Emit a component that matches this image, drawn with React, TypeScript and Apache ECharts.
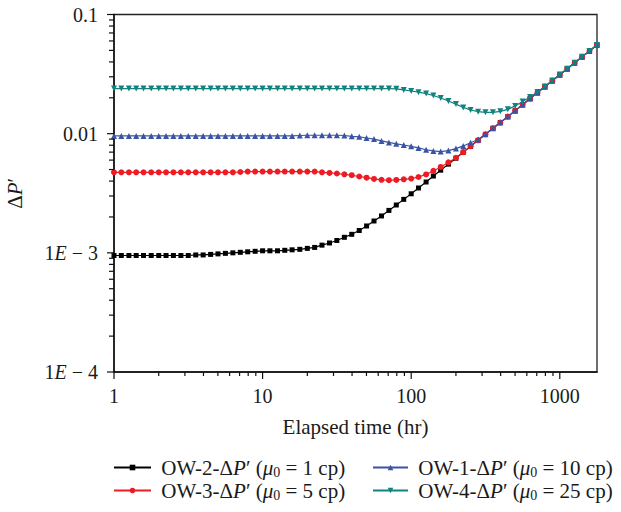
import React, { useEffect, useRef } from "react";
import * as echarts from "echarts";

// Elapsed time (hr), log-spaced sample points
const times = [
  1, 1.12, 1.26, 1.41, 1.58, 1.78, 2.0, 2.24, 2.51, 2.82, 3.16, 3.55, 3.98, 4.47, 5.01, 5.62, 6.31, 7.08, 7.94, 8.91,
  10, 11.2, 12.6, 14.1, 15.8, 17.8, 20.0, 22.4, 25.1, 28.2, 31.6, 35.5, 39.8, 44.7, 50.1, 56.2, 63.1, 70.8, 79.4, 89.1,
  100, 112, 126, 141, 158, 178, 200, 224, 251, 282, 316, 355, 398, 447, 501, 562, 631, 708, 794, 891,
  1000, 1122, 1259, 1413, 1585, 1778,
];

// OW-2 ΔP' (μ0 = 1 cp)
const ow2 = [
  0.00095, 0.00095, 0.00095, 0.00095, 0.00095, 0.00095, 0.00095, 0.00095, 0.00095, 0.00095, 0.00095,
  0.00096, 0.00096, 0.00097, 0.00098, 0.00099, 0.001, 0.00101, 0.00102, 0.00103, 0.00104,
  0.00104, 0.00104, 0.00105, 0.00106, 0.00107, 0.00109, 0.00111, 0.00116, 0.00121, 0.00127,
  0.00135, 0.00143, 0.00154, 0.00168, 0.00185, 0.00204, 0.00227, 0.00252, 0.00281, 0.00313,
  0.0035, 0.00393, 0.00441, 0.00494, 0.00555, 0.00622, 0.00698, 0.00783, 0.00879, 0.00986,
  0.0111, 0.0124, 0.0139, 0.0156, 0.0175, 0.0197, 0.0221, 0.0248, 0.0278, 0.0312,
  0.035, 0.0393, 0.0441, 0.0494, 0.0555,
];

// OW-3 ΔP' (μ0 = 5 cp)
const ow3 = [
  0.00474, 0.00474, 0.00474, 0.00474, 0.00474, 0.00474, 0.00474, 0.00474, 0.00474, 0.00474,
  0.00474, 0.00474, 0.00474, 0.00474, 0.00474, 0.00474, 0.00474, 0.00477,
  0.00481, 0.00481, 0.00481, 0.00481, 0.00481, 0.00481, 0.00481, 0.00481, 0.00481, 0.00481,
  0.00474, 0.00468, 0.00463, 0.00456, 0.00448, 0.00437, 0.00427, 0.00417, 0.0041, 0.00407,
  0.00409, 0.00414, 0.0042, 0.00433, 0.00455, 0.00487, 0.00526, 0.00574, 0.00628, 0.007,
  0.00785, 0.0088, 0.00988,
  0.0111, 0.0124, 0.0139, 0.0156, 0.0175, 0.0197, 0.0221, 0.0248, 0.0278, 0.0312,
  0.035, 0.0393, 0.0441, 0.0494, 0.0555,
];

// OW-1 ΔP' (μ0 = 10 cp)
const ow1 = [
  0.00957, 0.00957, 0.00957, 0.00957, 0.00957, 0.00957, 0.00957, 0.00957, 0.00957, 0.00957,
  0.00957, 0.00957, 0.00957, 0.00957, 0.00957, 0.00957, 0.00957, 0.00957, 0.00957, 0.00957,
  0.00957, 0.00957, 0.00957, 0.00957, 0.00957,
  0.00965, 0.0097, 0.0097, 0.0097, 0.0097, 0.0097, 0.00965,
  0.0095, 0.0094, 0.0092, 0.009, 0.00869, 0.00844, 0.00822, 0.00803, 0.00783, 0.00759,
  0.00733, 0.00716, 0.00708, 0.00721, 0.00749, 0.00789, 0.0084, 0.00893, 0.0099,
  0.0111, 0.0124, 0.0139, 0.0156, 0.0175, 0.0197, 0.0221, 0.0248, 0.0278, 0.0312,
  0.035, 0.0393, 0.0441, 0.0494, 0.0555,
];

// OW-4 ΔP' (μ0 = 25 cp)
const ow4 = [
  0.0239, 0.0239, 0.0239, 0.0239, 0.0239, 0.0239, 0.0239, 0.0239, 0.0239, 0.0239,
  0.0239, 0.0239, 0.0239, 0.0239, 0.0239, 0.0239, 0.0239, 0.0239, 0.0239, 0.0239,
  0.0239, 0.0239, 0.0239, 0.0239, 0.0239, 0.0239, 0.0239, 0.0239, 0.0239, 0.0239,
  0.0239, 0.0239, 0.0239, 0.0239, 0.0239, 0.0239, 0.0239, 0.0239,
  0.0238, 0.0233, 0.0228, 0.0223, 0.0217, 0.0209, 0.0199, 0.0188, 0.0177, 0.0166,
  0.0158, 0.0153, 0.0151, 0.0151, 0.0154, 0.016, 0.0171, 0.0186, 0.0203, 0.0224,
  0.0249, 0.0279, 0.0313, 0.035, 0.0393, 0.0441, 0.0494, 0.0555,
];

const seriesNames = ["OW-2", "OW-3", "OW-1", "OW-4"];
const seriesMu = ["1", "5", "10", "25"];

const xMin = 1;
const xMax = 1780;
const yMin = 0.0001;
const yMax = 0.1;

const xMajorTicks = [1, 10, 100, 1000];
const xTickLabels = ["1", "10", "100", "1000"];
const xMinorTicks = [2, 3, 4, 5, 6, 7, 8, 9, 20, 30, 40, 50, 60, 70, 80, 90, 200, 300, 400, 500, 600, 700, 800, 900];

const yMajorTicks = [0.0001, 0.001, 0.01, 0.1];
const yTickLabels = ["1{i|E} − 4", "1{i|E} − 3", "0.01", "0.1"];
const yMinorTicks = [
  0.0002, 0.0003, 0.0004, 0.0005, 0.0006, 0.0007, 0.0008, 0.0009,
  0.002, 0.003, 0.004, 0.005, 0.006, 0.007, 0.008, 0.009,
  0.02, 0.03, 0.04, 0.05, 0.06, 0.07, 0.08, 0.09,
];

const FONT = "'Liberation Serif', 'Times New Roman', serif";
const TXT = "#1a1a1a";

function matchTick(v: number, ticks: number[], labels: string[]) {
  for (let k = 0; k < ticks.length; k++) {
    if (Math.abs(Math.log10(v) - Math.log10(ticks[k])) < 1e-6) return labels[k];
  }
  return "";
}

export default function App() {
  const ref = useRef<HTMLDivElement>(null);

  useEffect(() => {
    if (!ref.current) return;
    const chart = echarts.init(ref.current, undefined, { renderer: "svg" });

    const tickData: number[][] = [];
    xMajorTicks.forEach((v) => tickData.push([v, yMin, 0, 7]));
    xMinorTicks.forEach((v) => tickData.push([v, yMin, 0, 4]));
    yMajorTicks.forEach((v) => tickData.push([xMin, v, 1, 7]));
    yMinorTicks.forEach((v) => tickData.push([xMin, v, 1, 5]));

    const mk = (arr: number[]) => times.map((t, i) => [t, arr[i]]);

    const legendFormatter = (name: string) => {
      const k = seriesNames.indexOf(name);
      return ` ${name}-Δ{i|P}′ ({i|μ}{sub|0} = ${seriesMu[k]} cp)`;
    };
    const legendText = {
      fontFamily: FONT,
      fontSize: 21,
      color: TXT,
      rich: {
        i: { fontFamily: FONT, fontSize: 21, fontStyle: "italic", color: TXT },
        sub: { fontFamily: FONT, fontSize: 14, color: TXT, padding: [9, 0, 0, 0] },
      },
    };

    const option: any = {
      animation: false,
      grid: {
        left: 114,
        right: 24,
        top: 14.5,
        bottom: 140,
        containLabel: false,
        outerBoundsMode: "none",
        show: true,
        borderColor: "#222",
        borderWidth: 1.3,
        backgroundColor: "transparent",
      },
      xAxis: {
        type: "log",
        logBase: 10,
        min: xMin,
        max: xMax,
        name: "Elapsed time (hr)",
        nameLocation: "middle",
        nameGap: 44,
        nameTextStyle: { fontFamily: FONT, fontSize: 21, color: TXT },
        axisLine: { show: true, onZero: false, lineStyle: { color: "#111", width: 1.5 } },
        axisTick: { show: false },
        minorTick: { show: false },
        splitLine: { show: false },
        axisLabel: {
          margin: 14,
          fontFamily: FONT,
          fontSize: 20,
          color: TXT,
          showMaxLabel: true,
          formatter: (v: number) => matchTick(v, xMajorTicks, xTickLabels),
        },
      },
      yAxis: {
        type: "log",
        logBase: 10,
        min: yMin,
        max: yMax,
        name: "Δ{i|P}′",
        nameLocation: "middle",
        nameGap: 89,
        nameTextStyle: {
          fontFamily: FONT,
          fontSize: 21,
          color: TXT,
          rich: { i: { fontFamily: FONT, fontSize: 21, fontStyle: "italic", color: TXT } },
        },
        axisLine: { show: true, onZero: false, lineStyle: { color: "#111", width: 1.5 } },
        axisTick: { show: false },
        minorTick: { show: false },
        splitLine: { show: false },
        axisLabel: {
          margin: 16,
          fontFamily: FONT,
          fontSize: 20,
          color: TXT,
          formatter: (v: number) => matchTick(v, yMajorTicks, yTickLabels),
          rich: { i: { fontFamily: FONT, fontSize: 20, fontStyle: "italic", color: TXT } },
        },
      },
      legend: [
        {
          data: ["OW-2", "OW-3"],
          orient: "vertical",
          left: 113,
          top: 457,
          itemWidth: 37,
          itemHeight: 7,
          itemGap: 1,
          padding: 0,
          textStyle: legendText,
          formatter: legendFormatter,
        },
        {
          data: ["OW-1", "OW-4"],
          orient: "vertical",
          left: 372,
          top: 457,
          itemWidth: 35,
          itemHeight: 7,
          itemGap: 1,
          padding: 0,
          textStyle: legendText,
          formatter: legendFormatter,
        },
      ],
      series: [
        {
          name: "OW-2",
          type: "line",
          data: mk(ow2),
          symbol: "rect",
          symbolSize: 5,
          color: "#000000",
          lineStyle: { width: 1.2, color: "#000000" },
          itemStyle: { color: "#000000" },
          z: 2,
        },
        {
          name: "OW-3",
          type: "line",
          data: mk(ow3),
          symbol: "circle",
          symbolSize: 6,
          color: "#ed1c24",
          lineStyle: { width: 1.2, color: "#ed1c24" },
          itemStyle: { color: "#ed1c24" },
          z: 3,
        },
        {
          name: "OW-1",
          type: "line",
          data: mk(ow1),
          symbol: "triangle",
          symbolSize: 6,
          color: "#3a53a4",
          lineStyle: { width: 1.2, color: "#3a53a4" },
          itemStyle: { color: "#3a53a4" },
          z: 4,
        },
        {
          name: "OW-4",
          type: "line",
          data: mk(ow4),
          symbol: "triangle",
          symbolRotate: 180,
          symbolSize: 6,
          color: "#12827f",
          lineStyle: { width: 1.2, color: "#12827f" },
          itemStyle: { color: "#12827f" },
          z: 5,
        },
        {
          type: "custom",
          silent: true,
          clip: false,
          z: 10,
          data: tickData,
          encode: { x: 0, y: 1 },
          renderItem: (params: any, api: any) => {
            const kind = api.value(2);
            const len = api.value(3);
            const p = api.coord([api.value(0), api.value(1)]);
            const style = { stroke: "#111", lineWidth: 1.2 };
            if (kind === 0) {
              return { type: "line", shape: { x1: p[0], y1: p[1], x2: p[0], y2: p[1] + len }, style };
            }
            return { type: "line", shape: { x1: p[0] - len, y1: p[1], x2: p[0], y2: p[1] }, style };
          },
        },
      ],
    };

    chart.setOption(option);
    return () => chart.dispose();
  }, []);

  return (
    <div
      ref={ref}
      style={{ position: "fixed", left: 0, top: 0, width: 621, height: 512, background: "#fff" }}
    />
  );
}
